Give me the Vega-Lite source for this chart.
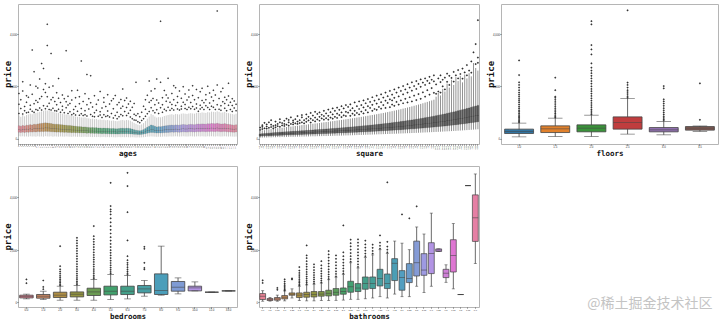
{
"$schema":"https://vega.github.io/schema/vega-lite/v6.json",
"background":"white",
"padding":{"left":2,"top":3,"right":0,"bottom":0},
"columns":3,
"spacing":{"row":22,"column":22},
"bounds":"flush",
"resolve":{"scale":{"color":"independent","x":"independent","y":"independent"}},
"title":{"text":"@稀土掘金技术社区","orient":"bottom","anchor":"end","dy":-27,"dx":-6,"fontSize":14,"fontWeight":"normal","color":"#c4c4c4","font":"Noto Sans CJK SC"},
"config":{
 "view":{"stroke":"#b5b5b5","strokeWidth":1},
 "scale":{"bandPaddingInner":0,"bandPaddingOuter":0},
 "axisY":{"labelFontSize":2.8,"labelFont":"Liberation Sans","labelColor":"#333","tickSize":1,"tickColor":"#666","labelPadding":0.5,"titleFontSize":9,"titleFont":"DejaVu Sans Mono","titleColor":"#111","titlePadding":0,"minExtent":6,"maxExtent":6,"domain":false,"grid":false},
 "axisX":{"labelFontSize":2.8,"labelFont":"Liberation Sans","labelColor":"#333","labelAngle":0,"tickSize":1,"tickColor":"#666","labelPadding":0.5,"titleFontSize":7.5,"titleFont":"DejaVu Sans Mono","titleColor":"#111","titlePadding":1,"minExtent":4,"maxExtent":4,"domain":false,"grid":false}
},
"datasets":{
"ages":[
{"a":0,"l":90,"q1":240,"m":345,"q3":490,"h":880},{"a":1,"l":80,"q1":235,"m":330,"q3":470,"h":830},{"a":2,"l":85,"q1":245,"m":350,"q3":500,"h":900},{"a":3,"l":75,"q1":230,"m":335,"q3":480,"h":850},{"a":4,"l":80,"q1":250,"m":360,"q3":510,"h":900},{"a":5,"l":70,"q1":240,"m":350,"q3":505,"h":920},{"a":6,"l":85,"q1":255,"m":370,"q3":530,"h":950},{"a":7,"l":75,"q1":245,"m":355,"q3":520,"h":930},{"a":8,"l":80,"q1":260,"m":380,"q3":545,"h":970},{"a":9,"l":70,"q1":250,"m":370,"q3":540,"h":980},
{"a":10,"l":85,"q1":265,"m":390,"q3":560,"h":1000},{"a":11,"l":75,"q1":260,"m":385,"q3":570,"h":1020},{"a":12,"l":80,"q1":270,"m":400,"q3":580,"h":1040},{"a":13,"l":70,"q1":265,"m":395,"q3":590,"h":1060},{"a":14,"l":90,"q1":275,"m":410,"q3":600,"h":1080},{"a":15,"l":80,"q1":270,"m":405,"q3":595,"h":1070},{"a":16,"l":75,"q1":265,"m":400,"q3":585,"h":1050},{"a":17,"l":85,"q1":260,"m":390,"q3":575,"h":1040},{"a":18,"l":70,"q1":255,"m":385,"q3":560,"h":1020},{"a":19,"l":80,"q1":250,"m":375,"q3":550,"h":1000},
{"a":20,"l":75,"q1":245,"m":370,"q3":545,"h":990},{"a":21,"l":70,"q1":250,"m":365,"q3":540,"h":980},{"a":22,"l":80,"q1":240,"m":360,"q3":530,"h":960},{"a":23,"l":75,"q1":245,"m":355,"q3":525,"h":950},{"a":24,"l":70,"q1":235,"m":350,"q3":515,"h":930},{"a":25,"l":80,"q1":240,"m":345,"q3":510,"h":920},{"a":26,"l":75,"q1":230,"m":340,"q3":500,"h":900},{"a":27,"l":70,"q1":235,"m":335,"q3":495,"h":890},{"a":28,"l":65,"q1":225,"m":330,"q3":485,"h":870},{"a":29,"l":75,"q1":230,"m":325,"q3":480,"h":860},
{"a":30,"l":70,"q1":220,"m":320,"q3":470,"h":840},{"a":31,"l":65,"q1":225,"m":315,"q3":460,"h":830},{"a":32,"l":70,"q1":215,"m":310,"q3":455,"h":820},{"a":33,"l":60,"q1":220,"m":305,"q3":450,"h":810},{"a":34,"l":65,"q1":210,"m":300,"q3":440,"h":800},{"a":35,"l":70,"q1":215,"m":305,"q3":445,"h":810},{"a":36,"l":60,"q1":205,"m":295,"q3":430,"h":780},{"a":37,"l":65,"q1":210,"m":290,"q3":425,"h":770},{"a":38,"l":60,"q1":200,"m":285,"q3":415,"h":750},{"a":39,"l":55,"q1":205,"m":290,"q3":420,"h":760},
{"a":40,"l":60,"q1":195,"m":280,"q3":410,"h":740},{"a":41,"l":55,"q1":200,"m":285,"q3":415,"h":750},{"a":42,"l":60,"q1":190,"m":275,"q3":400,"h":720},{"a":43,"l":50,"q1":195,"m":280,"q3":405,"h":730},{"a":44,"l":55,"q1":185,"m":270,"q3":395,"h":710},{"a":45,"l":60,"q1":190,"m":275,"q3":400,"h":720},{"a":46,"l":50,"q1":180,"m":265,"q3":390,"h":700},{"a":47,"l":55,"q1":185,"m":270,"q3":395,"h":710},{"a":48,"l":50,"q1":180,"m":260,"q3":385,"h":690},{"a":49,"l":55,"q1":175,"m":255,"q3":380,"h":680},
{"a":50,"l":50,"q1":180,"m":260,"q3":385,"h":690},{"a":51,"l":45,"q1":175,"m":255,"q3":375,"h":670},{"a":52,"l":50,"q1":170,"m":250,"q3":370,"h":660},{"a":53,"l":55,"q1":175,"m":255,"q3":380,"h":680},{"a":54,"l":50,"q1":180,"m":265,"q3":390,"h":700},{"a":55,"l":55,"q1":185,"m":270,"q3":395,"h":710},{"a":56,"l":50,"q1":180,"m":260,"q3":385,"h":690},{"a":57,"l":55,"q1":185,"m":265,"q3":395,"h":710},{"a":58,"l":50,"q1":180,"m":260,"q3":390,"h":700},{"a":59,"l":45,"q1":175,"m":255,"q3":380,"h":680},
{"a":60,"l":50,"q1":170,"m":245,"q3":360,"h":640},{"a":61,"l":45,"q1":165,"m":235,"q3":340,"h":600},{"a":62,"l":40,"q1":160,"m":225,"q3":320,"h":560},{"a":63,"l":45,"q1":155,"m":215,"q3":305,"h":530},{"a":64,"l":40,"q1":150,"m":210,"q3":295,"h":510},{"a":65,"l":45,"q1":160,"m":220,"q3":310,"h":540},{"a":66,"l":50,"q1":170,"m":240,"q3":340,"h":590},{"a":67,"l":60,"q1":185,"m":265,"q3":380,"h":670},{"a":68,"l":70,"q1":205,"m":300,"q3":430,"h":760},{"a":69,"l":75,"q1":220,"m":320,"q3":470,"h":840},
{"a":70,"l":80,"q1":235,"m":345,"q3":520,"h":940},{"a":71,"l":75,"q1":230,"m":335,"q3":500,"h":900},{"a":72,"l":70,"q1":220,"m":320,"q3":470,"h":840},{"a":73,"l":65,"q1":210,"m":305,"q3":445,"h":800},{"a":74,"l":70,"q1":215,"m":315,"q3":455,"h":820},{"a":75,"l":65,"q1":210,"m":310,"q3":450,"h":810},{"a":76,"l":70,"q1":220,"m":320,"q3":465,"h":830},{"a":77,"l":75,"q1":225,"m":330,"q3":480,"h":860},{"a":78,"l":70,"q1":230,"m":335,"q3":490,"h":880},{"a":79,"l":75,"q1":235,"m":340,"q3":500,"h":900},
{"a":80,"l":80,"q1":240,"m":350,"q3":510,"h":920},{"a":81,"l":75,"q1":245,"m":355,"q3":515,"h":930},{"a":82,"l":80,"q1":240,"m":350,"q3":505,"h":910},{"a":83,"l":85,"q1":250,"m":360,"q3":520,"h":940},{"a":84,"l":80,"q1":245,"m":355,"q3":515,"h":930},{"a":85,"l":75,"q1":240,"m":350,"q3":510,"h":920},{"a":86,"l":80,"q1":250,"m":365,"q3":525,"h":950},{"a":87,"l":85,"q1":255,"m":370,"q3":535,"h":960},{"a":88,"l":80,"q1":250,"m":365,"q3":530,"h":950},{"a":89,"l":75,"q1":245,"m":360,"q3":520,"h":940},
{"a":90,"l":80,"q1":255,"m":370,"q3":535,"h":960},{"a":91,"l":85,"q1":260,"m":375,"q3":540,"h":970},{"a":92,"l":80,"q1":255,"m":370,"q3":535,"h":960},{"a":93,"l":75,"q1":250,"m":365,"q3":525,"h":950},{"a":94,"l":80,"q1":260,"m":375,"q3":545,"h":980},{"a":95,"l":85,"q1":265,"m":385,"q3":555,"h":990},{"a":96,"l":80,"q1":260,"m":380,"q3":550,"h":980},{"a":97,"l":85,"q1":270,"m":390,"q3":560,"h":1000},{"a":98,"l":80,"q1":265,"m":385,"q3":555,"h":990},{"a":99,"l":75,"q1":260,"m":380,"q3":550,"h":980},
{"a":100,"l":85,"q1":270,"m":395,"q3":565,"h":1010},{"a":101,"l":80,"q1":265,"m":390,"q3":560,"h":1000},{"a":102,"l":85,"q1":275,"m":400,"q3":575,"h":1030},{"a":103,"l":80,"q1":270,"m":395,"q3":570,"h":1020},{"a":104,"l":75,"q1":265,"m":390,"q3":565,"h":1010},{"a":105,"l":85,"q1":275,"m":405,"q3":580,"h":1040},{"a":106,"l":80,"q1":270,"m":395,"q3":570,"h":1020},{"a":107,"l":75,"q1":260,"m":385,"q3":555,"h":990},{"a":108,"l":80,"q1":265,"m":390,"q3":560,"h":1000},{"a":109,"l":85,"q1":270,"m":395,"q3":570,"h":1020},
{"a":110,"l":80,"q1":260,"m":380,"q3":550,"h":980},{"a":111,"l":75,"q1":255,"m":375,"q3":540,"h":970},{"a":112,"l":80,"q1":250,"m":365,"q3":530,"h":950},{"a":113,"l":75,"q1":245,"m":360,"q3":520,"h":940},{"a":114,"l":70,"q1":240,"m":350,"q3":510,"h":920},{"a":115,"l":75,"q1":250,"m":360,"q3":525,"h":950}
],
"agesO":[
{"a":0,"p":960},{"a":0,"p":1310},{"a":0,"p":1720},{"a":1,"p":1150},{"a":1,"p":1480},{"a":2,"p":940},{"a":2,"p":1820},{"a":2,"p":2170},{"a":3,"p":1230},{"a":3,"p":1060},{"a":4,"p":1390},{"a":4,"p":990},{"a":4,"p":1640},{"a":5,"p":1010},{"a":5,"p":1580},{"a":6,"p":1270},{"a":6,"p":2050},{"a":6,"p":1120},{"a":7,"p":3385},{"a":7,"p":1040},{"a":7,"p":1690},{"a":8,"p":2560},{"a":8,"p":1330},{"a":8,"p":1010},{"a":9,"p":1460},{"a":9,"p":1110},{"a":9,"p":2000},
{"a":10,"p":1080},{"a":10,"p":1930},{"a":10,"p":1390},{"a":11,"p":2277},{"a":11,"p":1170},{"a":11,"p":1520},{"a":12,"p":2874},{"a":12,"p":1090},{"a":12,"p":1610},{"a":13,"p":2683},{"a":13,"p":1250},{"a":13,"p":1880},{"a":14,"p":1140},{"a":14,"p":1760},{"a":14,"p":2100},{"a":15,"p":4378},{"a":15,"p":3561},{"a":15,"p":1240},{"a":15,"p":1600},{"a":16,"p":1110},{"a":16,"p":1960},{"a":16,"p":1350},{"a":17,"p":3256},{"a":17,"p":1480},{"a":17,"p":1090},{"a":18,"p":1570},{"a":18,"p":1160},{"a":18,"p":2010},{"a":19,"p":1060},{"a":19,"p":1420},
{"a":20,"p":1290},{"a":20,"p":1050},{"a":20,"p":1750},{"a":21,"p":2300},{"a":21,"p":1120},{"a":21,"p":1540},{"a":22,"p":1010},{"a":22,"p":1380},{"a":23,"p":1670},{"a":23,"p":1090},{"a":23,"p":1240},{"a":24,"p":990},{"a":24,"p":1520},{"a":25,"p":3359},{"a":25,"p":1180},{"a":25,"p":1410},{"a":26,"p":960},{"a":26,"p":1620},{"a":26,"p":1280},{"a":27,"p":1340},{"a":27,"p":1020},{"a":28,"p":910},{"a":28,"p":1470},{"a":28,"p":1830},{"a":29,"p":1110},{"a":29,"p":960},
{"a":30,"p":1560},{"a":30,"p":900},{"a":30,"p":1230},{"a":31,"p":1850},{"a":31,"p":1040},{"a":32,"p":890},{"a":32,"p":1330},{"a":32,"p":1600},{"a":33,"p":2966},{"a":33,"p":1150},{"a":33,"p":950},{"a":34,"p":1420},{"a":34,"p":880},{"a":35,"p":1060},{"a":35,"p":1710},{"a":35,"p":910},{"a":36,"p":2454},{"a":36,"p":1290},{"a":36,"p":860},{"a":37,"p":1130},{"a":37,"p":1520},{"a":38,"p":2400},{"a":38,"p":920},{"a":38,"p":1370},{"a":39,"p":1210},{"a":39,"p":850},
{"a":40,"p":1640},{"a":40,"p":830},{"a":40,"p":990},{"a":41,"p":1080},{"a":41,"p":1310},{"a":42,"p":850},{"a":42,"p":1470},{"a":43,"p":1800},{"a":43,"p":1020},{"a":43,"p":900},{"a":44,"p":1170},{"a":44,"p":800},{"a":45,"p":1390},{"a":45,"p":910},{"a":45,"p":1560},{"a":46,"p":840},{"a":46,"p":1230},{"a":47,"p":1050},{"a":47,"p":1680},{"a":47,"p":870},{"a":48,"p":1320},{"a":48,"p":820},{"a":49,"p":960},{"a":49,"p":1450},
{"a":50,"p":790},{"a":50,"p":1140},{"a":50,"p":1520},{"a":51,"p":1650},{"a":51,"p":880},{"a":52,"p":1010},{"a":52,"p":760},{"a":52,"p":1290},{"a":53,"p":1380},{"a":53,"p":830},{"a":54,"p":920},{"a":54,"p":1490},{"a":54,"p":1160},{"a":55,"p":1900},{"a":55,"p":870},{"a":55,"p":1240},{"a":56,"p":1030},{"a":56,"p":1460},{"a":57,"p":1550},{"a":57,"p":880},{"a":57,"p":1190},{"a":58,"p":970},{"a":58,"p":1320},{"a":59,"p":1430},{"a":59,"p":820},{"a":59,"p":1080},
{"a":60,"p":760},{"a":60,"p":1200},{"a":61,"p":930},{"a":61,"p":710},{"a":61,"p":1340},{"a":62,"p":2150},{"a":62,"p":700},{"a":62,"p":880},{"a":63,"p":640},{"a":63,"p":950},{"a":64,"p":830},{"a":64,"p":600},{"a":65,"p":1010},{"a":65,"p":690},{"a":66,"p":760},{"a":66,"p":1240},{"a":67,"p":1120},{"a":67,"p":850},{"a":67,"p":1480},{"a":68,"p":950},{"a":68,"p":1660},{"a":69,"p":2200},{"a":69,"p":1030},{"a":69,"p":1390},
{"a":70,"p":1180},{"a":70,"p":1820},{"a":70,"p":1460},{"a":71,"p":1060},{"a":71,"p":1530},{"a":72,"p":1290},{"a":72,"p":990},{"a":72,"p":1910},{"a":73,"p":2277},{"a":73,"p":1100},{"a":73,"p":1470},{"a":74,"p":960},{"a":74,"p":1360},{"a":75,"p":4492},{"a":75,"p":2150},{"a":75,"p":1180},{"a":76,"p":1560},{"a":76,"p":1010},{"a":76,"p":1290},{"a":77,"p":1120},{"a":77,"p":1840},{"a":78,"p":1430},{"a":78,"p":1060},{"a":78,"p":1670},{"a":79,"p":2303},{"a":79,"p":1200},{"a":79,"p":1550},
{"a":80,"p":1080},{"a":80,"p":1390},{"a":81,"p":1720},{"a":81,"p":1150},{"a":81,"p":1300},{"a":82,"p":2023},{"a":82,"p":1090},{"a":82,"p":1480},{"a":83,"p":1260},{"a":83,"p":1940},{"a":84,"p":1130},{"a":84,"p":1610},{"a":84,"p":1380},{"a":85,"p":1820},{"a":85,"p":1090},{"a":86,"p":1240},{"a":86,"p":1540},{"a":86,"p":1130},{"a":87,"p":1390},{"a":87,"p":1980},{"a":88,"p":1150},{"a":88,"p":1700},{"a":88,"p":1300},{"a":89,"p":1470},{"a":89,"p":1110},
{"a":90,"p":1860},{"a":90,"p":1200},{"a":90,"p":1590},{"a":91,"p":1140},{"a":91,"p":1380},{"a":92,"p":1650},{"a":92,"p":1230},{"a":92,"p":2020},{"a":93,"p":1120},{"a":93,"p":1480},{"a":94,"p":1320},{"a":94,"p":1880},{"a":94,"p":1170},{"a":95,"p":1560},{"a":95,"p":1040},{"a":96,"p":1270},{"a":96,"p":1790},{"a":96,"p":1130},{"a":97,"p":1920},{"a":97,"p":1190},{"a":97,"p":1460},{"a":98,"p":1370},{"a":98,"p":1110},{"a":99,"p":1680},{"a":99,"p":1250},{"a":99,"p":1480},
{"a":100,"p":2000},{"a":100,"p":1190},{"a":101,"p":1360},{"a":101,"p":1740},{"a":101,"p":1110},{"a":102,"p":1240},{"a":102,"p":1590},{"a":103,"p":1850},{"a":103,"p":1200},{"a":103,"p":1450},{"a":104,"p":1110},{"a":104,"p":1670},{"a":105,"p":4885},{"a":105,"p":2050},{"a":105,"p":1290},{"a":106,"p":1530},{"a":106,"p":1120},{"a":107,"p":1790},{"a":107,"p":1250},{"a":107,"p":1080},{"a":108,"p":1410},{"a":108,"p":1920},{"a":109,"p":1160},{"a":109,"p":1580},{"a":109,"p":1340},
{"a":110,"p":1060},{"a":110,"p":1480},{"a":111,"p":2112},{"a":111,"p":1270},{"a":111,"p":1630},{"a":112,"p":1110},{"a":112,"p":1390},{"a":113,"p":1520},{"a":113,"p":1030},{"a":113,"p":1260},{"a":114,"p":1170},{"a":114,"p":1440},{"a":115,"p":1060},{"a":115,"p":1310}
],
"sq":[
{"s":20,"l":30,"q1":90,"m":130,"q3":175,"h":290},{"s":21,"l":35,"q1":95,"m":140,"q3":185,"h":310},{"s":22,"l":40,"q1":100,"m":145,"q3":190,"h":320},{"s":23,"l":38,"q1":105,"m":150,"q3":200,"h":340},{"s":24,"l":45,"q1":110,"m":155,"q3":205,"h":350},{"s":25,"l":42,"q1":108,"m":160,"q3":215,"h":360},{"s":26,"l":50,"q1":115,"m":165,"q3":220,"h":370},{"s":27,"l":48,"q1":120,"m":170,"q3":228,"h":380},{"s":28,"l":55,"q1":118,"m":172,"q3":235,"h":395},{"s":29,"l":52,"q1":125,"m":178,"q3":240,"h":400},
{"s":30,"l":58,"q1":128,"m":182,"q3":245,"h":410},{"s":31,"l":55,"q1":132,"m":186,"q3":252,"h":425},{"s":32,"l":60,"q1":135,"m":190,"q3":258,"h":440},{"s":33,"l":62,"q1":138,"m":195,"q3":262,"h":445},{"s":34,"l":65,"q1":140,"m":198,"q3":268,"h":455},{"s":35,"l":63,"q1":145,"m":205,"q3":275,"h":470},{"s":36,"l":68,"q1":148,"m":208,"q3":280,"h":480},{"s":37,"l":70,"q1":150,"m":212,"q3":286,"h":490},{"s":38,"l":72,"q1":154,"m":216,"q3":292,"h":500},{"s":39,"l":75,"q1":158,"m":220,"q3":298,"h":515},
{"s":40,"l":74,"q1":160,"m":225,"q3":302,"h":520},{"s":41,"l":78,"q1":164,"m":230,"q3":308,"h":530},{"s":42,"l":80,"q1":167,"m":234,"q3":314,"h":545},{"s":43,"l":82,"q1":170,"m":238,"q3":320,"h":555},{"s":44,"l":85,"q1":172,"m":242,"q3":326,"h":565},{"s":45,"l":83,"q1":176,"m":246,"q3":332,"h":575},{"s":46,"l":88,"q1":180,"m":250,"q3":338,"h":585},{"s":47,"l":90,"q1":182,"m":254,"q3":344,"h":595},{"s":48,"l":92,"q1":186,"m":258,"q3":350,"h":610},{"s":49,"l":95,"q1":190,"m":262,"q3":356,"h":620},
{"s":50,"l":94,"q1":192,"m":266,"q3":362,"h":630},{"s":51,"l":98,"q1":196,"m":270,"q3":368,"h":640},{"s":52,"l":100,"q1":200,"m":275,"q3":375,"h":655},{"s":53,"l":102,"q1":203,"m":280,"q3":382,"h":665},{"s":54,"l":105,"q1":206,"m":284,"q3":388,"h":675},{"s":55,"l":108,"q1":210,"m":288,"q3":395,"h":690},{"s":56,"l":110,"q1":214,"m":293,"q3":402,"h":700},{"s":57,"l":112,"q1":217,"m":298,"q3":408,"h":712},{"s":58,"l":115,"q1":220,"m":302,"q3":415,"h":725},{"s":59,"l":118,"q1":224,"m":307,"q3":422,"h":738},
{"s":60,"l":120,"q1":228,"m":312,"q3":430,"h":750},{"s":61,"l":123,"q1":232,"m":317,"q3":437,"h":762},{"s":62,"l":126,"q1":236,"m":322,"q3":444,"h":775},{"s":63,"l":128,"q1":240,"m":327,"q3":452,"h":788},{"s":64,"l":131,"q1":244,"m":332,"q3":460,"h":800},{"s":65,"l":134,"q1":248,"m":338,"q3":468,"h":815},{"s":66,"l":137,"q1":252,"m":343,"q3":476,"h":828},{"s":67,"l":140,"q1":256,"m":348,"q3":484,"h":842},{"s":68,"l":143,"q1":260,"m":354,"q3":492,"h":856},{"s":69,"l":146,"q1":264,"m":360,"q3":500,"h":870},
{"s":70,"l":149,"q1":268,"m":366,"q3":508,"h":885},{"s":71,"l":152,"q1":273,"m":372,"q3":517,"h":900},{"s":72,"l":155,"q1":278,"m":378,"q3":526,"h":915},{"s":73,"l":158,"q1":283,"m":384,"q3":535,"h":930},{"s":74,"l":161,"q1":288,"m":390,"q3":544,"h":946},{"s":75,"l":164,"q1":293,"m":397,"q3":553,"h":962},{"s":76,"l":167,"q1":298,"m":404,"q3":563,"h":978},{"s":77,"l":170,"q1":303,"m":410,"q3":573,"h":995},{"s":78,"l":173,"q1":308,"m":417,"q3":583,"h":1012},{"s":79,"l":176,"q1":313,"m":424,"q3":593,"h":1030},
{"s":80,"l":180,"q1":318,"m":431,"q3":604,"h":1048},{"s":81,"l":183,"q1":323,"m":438,"q3":615,"h":1066},{"s":82,"l":186,"q1":328,"m":446,"q3":626,"h":1085},{"s":83,"l":190,"q1":334,"m":454,"q3":637,"h":1104},{"s":84,"l":193,"q1":340,"m":462,"q3":648,"h":1124},{"s":85,"l":196,"q1":346,"m":470,"q3":660,"h":1144},{"s":86,"l":200,"q1":352,"m":478,"q3":672,"h":1165},{"s":87,"l":203,"q1":358,"m":487,"q3":684,"h":1186},{"s":88,"l":206,"q1":364,"m":496,"q3":697,"h":1208},{"s":89,"l":210,"q1":370,"m":505,"q3":710,"h":1230},
{"s":90,"l":213,"q1":376,"m":514,"q3":723,"h":1253},{"s":91,"l":217,"q1":383,"m":523,"q3":736,"h":1276},{"s":92,"l":220,"q1":390,"m":532,"q3":750,"h":1300},{"s":93,"l":224,"q1":397,"m":542,"q3":764,"h":1325},{"s":94,"l":228,"q1":404,"m":552,"q3":778,"h":1350},{"s":95,"l":232,"q1":411,"m":562,"q3":793,"h":1376},{"s":96,"l":236,"q1":418,"m":572,"q3":808,"h":1402},{"s":97,"l":240,"q1":426,"m":583,"q3":823,"h":1429},{"s":98,"l":244,"q1":434,"m":594,"q3":839,"h":1457},{"s":99,"l":248,"q1":442,"m":605,"q3":855,"h":1485},
{"s":100,"l":252,"q1":450,"m":616,"q3":871,"h":1600},{"s":101,"l":256,"q1":458,"m":628,"q3":888,"h":1750},{"s":102,"l":260,"q1":466,"m":640,"q3":905,"h":1650},{"s":103,"l":265,"q1":474,"m":652,"q3":923,"h":1900},{"s":104,"l":270,"q1":483,"m":665,"q3":941,"h":1800},{"s":105,"l":274,"q1":492,"m":678,"q3":960,"h":2100},{"s":106,"l":279,"q1":501,"m":691,"q3":979,"h":1950},{"s":107,"l":284,"q1":510,"m":704,"q3":998,"h":2250},{"s":108,"l":289,"q1":520,"m":718,"q3":1018,"h":2050},{"s":109,"l":294,"q1":530,"m":732,"q3":1038,"h":2350},
{"s":110,"l":300,"q1":540,"m":746,"q3":1059,"h":2200},{"s":111,"l":305,"q1":550,"m":761,"q3":1080,"h":2400},{"s":112,"l":310,"q1":560,"m":776,"q3":1102,"h":2150},{"s":113,"l":316,"q1":571,"m":791,"q3":1124,"h":2450},{"s":114,"l":322,"q1":582,"m":807,"q3":1147,"h":2300},{"s":115,"l":328,"q1":594,"m":823,"q3":1170,"h":2500},{"s":116,"l":334,"q1":606,"m":840,"q3":1194,"h":2380},{"s":117,"l":340,"q1":618,"m":857,"q3":1218,"h":2890},{"s":118,"l":347,"q1":630,"m":875,"q3":1243,"h":2700},{"s":119,"l":354,"q1":643,"m":893,"q3":1268,"h":2600}
],
"sqO":[
{"s":20,"p":420},{"s":20,"p":330},{"s":21,"p":360},{"s":21,"p":510},{"s":21,"p":450},{"s":22,"p":600},{"s":22,"p":390},{"s":23,"p":460},{"s":23,"p":380},{"s":23,"p":540},{"s":24,"p":410},{"s":24,"p":620},{"s":25,"p":530},{"s":25,"p":440},{"s":25,"p":700},{"s":26,"p":480},{"s":26,"p":390},{"s":27,"p":650},{"s":27,"p":510},{"s":27,"p":430},{"s":28,"p":560},{"s":28,"p":470},{"s":29,"p":740},{"s":29,"p":450},{"s":29,"p":620},
{"s":30,"p":500},{"s":30,"p":590},{"s":31,"p":680},{"s":31,"p":480},{"s":31,"p":560},{"s":32,"p":530},{"s":32,"p":760},{"s":33,"p":620},{"s":33,"p":490},{"s":33,"p":710},{"s":34,"p":810},{"s":34,"p":560},{"s":35,"p":540},{"s":35,"p":690},{"s":35,"p":620},{"s":36,"p":740},{"s":36,"p":580},{"s":37,"p":560},{"s":37,"p":860},{"s":37,"p":650},{"s":38,"p":700},{"s":38,"p":590},{"s":39,"p":620},{"s":39,"p":810},{"s":39,"p":900},
{"s":40,"p":580},{"s":40,"p":700},{"s":41,"p":920},{"s":41,"p":640},{"s":41,"p":760},{"s":42,"p":690},{"s":42,"p":830},{"s":43,"p":610},{"s":43,"p":760},{"s":43,"p":980},{"s":44,"p":880},{"s":44,"p":700},{"s":45,"p":660},{"s":45,"p":800},{"s":45,"p":1020},{"s":46,"p":730},{"s":46,"p":940},{"s":47,"p":1000},{"s":47,"p":680},{"s":47,"p":830},{"s":48,"p":770},{"s":48,"p":910},{"s":49,"p":720},{"s":49,"p":1060},{"s":49,"p":860},
{"s":50,"p":960},{"s":50,"p":780},{"s":51,"p":720},{"s":51,"p":870},{"s":51,"p":1110},{"s":52,"p":1010},{"s":52,"p":800},{"s":53,"p":760},{"s":53,"p":920},{"s":53,"p":1150},{"s":54,"p":1060},{"s":54,"p":830},{"s":55,"p":790},{"s":55,"p":1180},{"s":55,"p":950},{"s":56,"p":900},{"s":56,"p":1100},{"s":57,"p":820},{"s":57,"p":1000},{"s":57,"p":1240},{"s":58,"p":1150},{"s":58,"p":890},{"s":59,"p":860},{"s":59,"p":1020},{"s":59,"p":1280},
{"s":60,"p":990},{"s":60,"p":1210},{"s":61,"p":870},{"s":61,"p":1310},{"s":61,"p":1080},{"s":62,"p":1160},{"s":62,"p":950},{"s":63,"p":900},{"s":63,"p":1060},{"s":63,"p":1380},{"s":64,"p":1240},{"s":64,"p":980},{"s":65,"p":920},{"s":65,"p":1130},{"s":65,"p":1420},{"s":66,"p":1280},{"s":66,"p":1030},{"s":67,"p":960},{"s":67,"p":1190},{"s":67,"p":1460},{"s":68,"p":1090},{"s":68,"p":1350},{"s":69,"p":1000},{"s":69,"p":1510},{"s":69,"p":1240},
{"s":70,"p":1170},{"s":70,"p":1400},{"s":71,"p":1060},{"s":71,"p":1290},{"s":71,"p":1580},{"s":72,"p":1450},{"s":72,"p":1130},{"s":73,"p":1100},{"s":73,"p":1340},{"s":73,"p":1640},{"s":74,"p":1210},{"s":74,"p":1500},{"s":75,"p":1140},{"s":75,"p":1690},{"s":75,"p":1390},{"s":76,"p":1280},{"s":76,"p":1570},{"s":77,"p":1170},{"s":77,"p":1450},{"s":77,"p":1760},{"s":78,"p":1360},{"s":78,"p":1620},{"s":79,"p":1200},{"s":79,"p":1820},{"s":79,"p":1500},
{"s":80,"p":1300},{"s":80,"p":1680},{"s":80,"p":1460},{"s":81,"p":1250},{"s":81,"p":1880},{"s":81,"p":1560},{"s":82,"p":1400},{"s":82,"p":1760},{"s":83,"p":1300},{"s":83,"p":1610},{"s":83,"p":1950},{"s":84,"p":1460},{"s":84,"p":1820},{"s":85,"p":1350},{"s":85,"p":2010},{"s":85,"p":1690},{"s":86,"p":1520},{"s":86,"p":1880},{"s":87,"p":1380},{"s":87,"p":1760},{"s":87,"p":2080},{"s":88,"p":1580},{"s":88,"p":1950},{"s":89,"p":1420},{"s":89,"p":1830},{"s":89,"p":2150},
{"s":90,"p":1640},{"s":90,"p":2010},{"s":91,"p":1470},{"s":91,"p":1900},{"s":91,"p":2200},{"s":92,"p":1700},{"s":92,"p":2090},{"s":93,"p":1520},{"s":93,"p":1980},{"s":93,"p":2260},{"s":94,"p":1770},{"s":94,"p":2140},{"s":95,"p":1600},{"s":95,"p":2050},{"s":95,"p":2300},{"s":96,"p":1850},{"s":96,"p":2210},{"s":97,"p":1680},{"s":97,"p":2120},{"s":97,"p":2360},{"s":98,"p":1930},{"s":98,"p":2250},{"s":99,"p":1750},{"s":99,"p":2190},{"s":99,"p":2420},
{"s":100,"p":1710},{"s":100,"p":2070},{"s":101,"p":1800},{"s":101,"p":2300},{"s":102,"p":1760},{"s":102,"p":2160},{"s":102,"p":2420},{"s":103,"p":2000},{"s":103,"p":2250},{"s":104,"p":1880},{"s":104,"p":2330},{"s":105,"p":2170},{"s":105,"p":2480},{"s":106,"p":2050},{"s":106,"p":2400},{"s":107,"p":2320},{"s":108,"p":2180},{"s":108,"p":2550},{"s":109,"p":2420},
{"s":110,"p":2300},{"s":110,"p":2620},{"s":111,"p":2470},{"s":112,"p":2290},{"s":112,"p":2680},{"s":113,"p":2530},{"s":114,"p":2420},{"s":114,"p":2810},{"s":115,"p":2600},{"s":116,"p":2520},{"s":116,"p":2950},{"s":117,"p":3300},{"s":118,"p":3614},{"s":118,"p":2850},{"s":119,"p":4530},{"s":119,"p":3100},{"s":119,"p":2900}
],
"fl":[
{"f":1,"l":65,"q1":191,"m":267,"q3":359,"h":588},{"f":1.5,"l":76,"q1":229,"m":370,"q3":485,"h":779},{"f":2,"l":76,"q1":256,"m":397,"q3":523,"h":893},{"f":2.5,"l":168,"q1":359,"m":611,"q3":828,"h":1527},{"f":3,"l":141,"q1":256,"m":332,"q3":420,"h":649},{"f":3.5,"l":270,"q1":321,"m":397,"q3":458,"h":480}
],
"flO":[
{"f":1,"p":620},{"f":1,"p":660},{"f":1,"p":700},{"f":1,"p":750},{"f":1,"p":800},{"f":1,"p":850},{"f":1,"p":900},{"f":1,"p":960},{"f":1,"p":1020},{"f":1,"p":1080},{"f":1,"p":1150},{"f":1,"p":1220},{"f":1,"p":1300},{"f":1,"p":1380},{"f":1,"p":1450},{"f":1,"p":1520},{"f":1,"p":1600},{"f":1,"p":1680},{"f":1,"p":1760},{"f":1,"p":1850},{"f":1,"p":1950},{"f":1,"p":2050},{"f":1,"p":2150},{"f":1,"p":2430},{"f":1,"p":2990},
{"f":1.5,"p":800},{"f":1.5,"p":850},{"f":1.5,"p":900},{"f":1.5,"p":960},{"f":1.5,"p":1020},{"f":1.5,"p":1090},{"f":1.5,"p":1160},{"f":1.5,"p":1240},{"f":1.5,"p":1320},{"f":1.5,"p":1400},{"f":1.5,"p":1480},{"f":1.5,"p":1560},{"f":1.5,"p":1600},{"f":1.5,"p":1850},{"f":1.5,"p":2330},
{"f":2,"p":920},{"f":2,"p":980},{"f":2,"p":1050},{"f":2,"p":1120},{"f":2,"p":1200},{"f":2,"p":1280},{"f":2,"p":1360},{"f":2,"p":1450},{"f":2,"p":1540},{"f":2,"p":1630},{"f":2,"p":1720},{"f":2,"p":1810},{"f":2,"p":1900},{"f":2,"p":2000},{"f":2,"p":2100},{"f":2,"p":2200},{"f":2,"p":2300},{"f":2,"p":2400},{"f":2,"p":2500},{"f":2,"p":2600},{"f":2,"p":2710},{"f":2,"p":2880},{"f":2,"p":3220},{"f":2,"p":3410},{"f":2,"p":3580},{"f":2,"p":4370},{"f":2,"p":4490},
{"f":2.5,"p":1560},{"f":2.5,"p":1620},{"f":2.5,"p":1700},{"f":2.5,"p":1780},{"f":2.5,"p":1850},{"f":2.5,"p":1950},{"f":2.5,"p":2050},{"f":2.5,"p":2140},{"f":2.5,"p":4910},
{"f":3,"p":680},{"f":3,"p":730},{"f":3,"p":790},{"f":3,"p":850},{"f":3,"p":920},{"f":3,"p":1000},{"f":3,"p":1080},{"f":3,"p":1160},{"f":3,"p":1250},{"f":3,"p":1340},{"f":3,"p":1420},{"f":3,"p":1500},{"f":3,"p":1920},{"f":3,"p":2010},
{"f":3.5,"p":714},{"f":3.5,"p":2114}
],
"bed":[
{"b":0,"l":115,"q1":153,"m":207,"q3":257,"h":295},{"b":1,"l":92,"q1":142,"m":219,"q3":284,"h":410},{"b":2,"l":65,"q1":168,"m":257,"q3":372,"h":602},{"b":3,"l":65,"q1":192,"m":295,"q3":383,"h":629},{"b":4,"l":65,"q1":245,"m":383,"q3":525,"h":859},{"b":5,"l":92,"q1":268,"m":410,"q3":602,"h":1050},{"b":6,"l":115,"q1":282,"m":410,"q3":602,"h":1012},{"b":7,"l":219,"q1":345,"m":498,"q3":629,"h":820},{"b":8,"l":257,"q1":284,"m":437,"q3":1074,"h":2136},{"b":9,"l":307,"q1":410,"m":564,"q3":782,"h":920},{"b":10,"l":422,"q1":422,"m":537,"q3":602,"h":767},{"b":11,"l":372,"q1":372,"m":372,"q3":372,"h":372},{"b":33,"l":422,"q1":422,"m":422,"q3":422,"h":422}
],
"bedO":[
{"b":0,"p":717},{"b":0,"p":859},{"b":1,"p":487},{"b":1,"p":575},{"b":1,"p":820},
{"b":2,"p":630},{"b":2,"p":680},{"b":2,"p":740},{"b":2,"p":800},{"b":2,"p":860},{"b":2,"p":930},{"b":2,"p":1000},{"b":2,"p":1080},{"b":2,"p":1160},{"b":2,"p":1250},{"b":2,"p":1369},{"b":2,"p":2136},
{"b":3,"p":660},{"b":3,"p":720},{"b":3,"p":780},{"b":3,"p":850},{"b":3,"p":920},{"b":3,"p":1000},{"b":3,"p":1080},{"b":3,"p":1170},{"b":3,"p":1260},{"b":3,"p":1350},{"b":3,"p":1450},{"b":3,"p":1550},{"b":3,"p":1650},{"b":3,"p":1750},{"b":3,"p":1850},{"b":3,"p":1950},{"b":3,"p":2050},{"b":3,"p":2150},{"b":3,"p":2250},{"b":3,"p":2350},{"b":3,"p":2454},
{"b":4,"p":890},{"b":4,"p":950},{"b":4,"p":1020},{"b":4,"p":1100},{"b":4,"p":1180},{"b":4,"p":1260},{"b":4,"p":1350},{"b":4,"p":1440},{"b":4,"p":1530},{"b":4,"p":1620},{"b":4,"p":1710},{"b":4,"p":1800},{"b":4,"p":1900},{"b":4,"p":2000},{"b":4,"p":2100},{"b":4,"p":2200},{"b":4,"p":2300},{"b":4,"p":2400},{"b":4,"p":2519},{"b":4,"p":2903},
{"b":5,"p":1080},{"b":5,"p":1150},{"b":5,"p":1230},{"b":5,"p":1310},{"b":5,"p":1400},{"b":5,"p":1490},{"b":5,"p":1580},{"b":5,"p":1680},{"b":5,"p":1780},{"b":5,"p":1880},{"b":5,"p":1980},{"b":5,"p":2100},{"b":5,"p":2220},{"b":5,"p":2350},{"b":5,"p":2480},{"b":5,"p":2620},{"b":5,"p":2760},{"b":5,"p":2900},{"b":5,"p":3050},{"b":5,"p":3200},{"b":5,"p":3350},{"b":5,"p":3460},{"b":5,"p":3543},{"b":5,"p":3671},{"b":5,"p":4563},
{"b":6,"p":1040},{"b":6,"p":1100},{"b":6,"p":1170},{"b":6,"p":1250},{"b":6,"p":1330},{"b":6,"p":1420},{"b":6,"p":1495},{"b":6,"p":1600},{"b":6,"p":1750},{"b":6,"p":2354},{"b":6,"p":3434},{"b":6,"p":4435},{"b":6,"p":4946},
{"b":7,"p":1242},{"b":7,"p":1300},{"b":7,"p":1495},{"b":7,"p":2033},{"b":7,"p":2110}
],
"bath":[
{"k":0,"l":27,"q1":92,"m":218,"q3":320,"h":430},{"k":0.5,"l":30,"q1":53,"m":91,"q3":130,"h":170},{"k":0.75,"l":27,"q1":65,"m":115,"q3":168,"h":260},{"k":1,"l":40,"q1":115,"m":180,"q3":244,"h":420},{"k":1.25,"l":150,"q1":256,"m":300,"q3":344,"h":500},{"k":1.5,"l":50,"q1":168,"m":260,"q3":344,"h":600},{"k":1.75,"l":40,"q1":180,"m":280,"q3":370,"h":650},{"k":2,"l":40,"q1":190,"m":290,"q3":397,"h":680},{"k":2.25,"l":50,"q1":219,"m":300,"q3":397,"h":720},{"k":2.5,"l":50,"q1":229,"m":330,"q3":447,"h":850},
{"k":2.75,"l":60,"q1":256,"m":370,"q3":511,"h":950},{"k":3,"l":70,"q1":294,"m":400,"q3":534,"h":1050},{"k":3.25,"l":100,"q1":370,"m":580,"q3":790,"h":1500},{"k":3.5,"l":100,"q1":397,"m":530,"q3":702,"h":1300},{"k":3.75,"l":120,"q1":485,"m":700,"q3":955,"h":1700},{"k":4,"l":150,"q1":511,"m":700,"q3":955,"h":1800},{"k":4.25,"l":200,"q1":611,"m":900,"q3":1248,"h":2000},{"k":4.5,"l":150,"q1":511,"m":700,"q3":1069,"h":1850},{"k":4.75,"l":300,"q1":817,"m":1480,"q3":1656,"h":2330},{"k":5,"l":200,"q1":447,"m":930,"q3":1198,"h":2250},
{"k":5.25,"l":200,"q1":740,"m":900,"q3":1466,"h":2000},{"k":5.5,"l":600,"q1":992,"m":1500,"q3":2328,"h":2870},{"k":5.75,"l":360,"q1":1019,"m":1220,"q3":1847,"h":2600},{"k":6,"l":600,"q1":1084,"m":1850,"q3":2267,"h":3400},{"k":6.25,"l":1930,"q1":1930,"m":1985,"q3":2030,"h":2030},{"k":6.5,"l":750,"q1":931,"m":1100,"q3":1248,"h":1420},{"k":6.75,"l":500,"q1":1145,"m":1780,"q3":2382,"h":3000},{"k":7.5,"l":282,"q1":282,"m":282,"q3":282,"h":282},{"k":7.75,"l":4454,"q1":4454,"m":4454,"q3":4454,"h":4454},{"k":8,"l":1466,"q1":2317,"m":3221,"q3":4099,"h":4900}
],
"bathO":[
{"k":0,"p":725},{"k":0,"p":828},{"k":0.75,"p":465},{"k":0.75,"p":534},
{"k":1,"p":440},{"k":1,"p":480},{"k":1,"p":530},{"k":1,"p":580},{"k":1,"p":640},{"k":1,"p":700},{"k":1,"p":780},{"k":1,"p":866},
{"k":1.25,"p":860},{"k":1.25,"p":900},
{"k":1.5,"p":630},{"k":1.5,"p":680},{"k":1.5,"p":740},{"k":1.5,"p":800},{"k":1.5,"p":870},{"k":1.5,"p":950},{"k":1.5,"p":1030},{"k":1.5,"p":1110},{"k":1.5,"p":1200},{"k":1.5,"p":1336},
{"k":1.75,"p":680},{"k":1.75,"p":740},{"k":1.75,"p":810},{"k":1.75,"p":890},{"k":1.75,"p":970},{"k":1.75,"p":1060},{"k":1.75,"p":1150},{"k":1.75,"p":1250},{"k":1.75,"p":1350},{"k":1.75,"p":1450},{"k":1.75,"p":1560},{"k":1.75,"p":1680},{"k":1.75,"p":1782},{"k":1.75,"p":2164},
{"k":2,"p":710},{"k":2,"p":780},{"k":2,"p":860},{"k":2,"p":940},{"k":2,"p":1030},{"k":2,"p":1120},{"k":2,"p":1220},{"k":2,"p":1330},{"k":2,"p":1440},
{"k":2.25,"p":750},{"k":2.25,"p":820},{"k":2.25,"p":900},{"k":2.25,"p":990},{"k":2.25,"p":1080},{"k":2.25,"p":1180},{"k":2.25,"p":1280},{"k":2.25,"p":1400},{"k":2.25,"p":1560},
{"k":2.5,"p":880},{"k":2.5,"p":960},{"k":2.5,"p":1050},{"k":2.5,"p":1150},{"k":2.5,"p":1250},{"k":2.5,"p":1360},{"k":2.5,"p":1470},{"k":2.5,"p":1580},{"k":2.5,"p":1700},{"k":2.5,"p":1820},{"k":2.5,"p":1946},
{"k":2.75,"p":980},{"k":2.75,"p":1070},{"k":2.75,"p":1170},{"k":2.75,"p":1280},{"k":2.75,"p":1400},{"k":2.75,"p":1520},{"k":2.75,"p":1650},{"k":2.75,"p":1782},
{"k":3,"p":1090},{"k":3,"p":1180},{"k":3,"p":1280},{"k":3,"p":1390},{"k":3,"p":1500},{"k":3,"p":1620},{"k":3,"p":1750},{"k":3,"p":1900},{"k":3,"p":2927},
{"k":3.25,"p":1540},{"k":3.25,"p":1640},{"k":3.25,"p":1750},{"k":3.25,"p":1870},{"k":3.25,"p":2000},{"k":3.25,"p":2130},{"k":3.25,"p":2250},{"k":3.25,"p":2382},
{"k":3.5,"p":1340},{"k":3.5,"p":1440},{"k":3.5,"p":1550},{"k":3.5,"p":1660},{"k":3.5,"p":1780},{"k":3.5,"p":1900},{"k":3.5,"p":2020},{"k":3.5,"p":2150},{"k":3.5,"p":2270},{"k":3.5,"p":2395},
{"k":3.75,"p":1750},{"k":3.75,"p":1850},{"k":3.75,"p":1960},{"k":3.75,"p":2080},{"k":3.75,"p":2200},{"k":3.75,"p":2345},
{"k":4,"p":1850},{"k":4,"p":1950},{"k":4,"p":2070},{"k":4,"p":2191},
{"k":4.25,"p":2040},{"k":4.25,"p":2150},{"k":4.25,"p":2270},{"k":4.25,"p":2546},
{"k":4.5,"p":1900},{"k":4.5,"p":2000},{"k":4.5,"p":2120},{"k":4.5,"p":2300},{"k":4.5,"p":4580},
{"k":5,"p":3350},{"k":5.25,"p":3200},{"k":5.5,"p":3660}
]
},
"concat":[
{"width":219,"height":140,"layer":[
 {"data":{"name":"ages"},"mark":{"type":"rule","color":"#9a9a9a","strokeWidth":0.5},"encoding":{"x":{"field":"a","type":"ordinal","title":"ages","axis":{"labelAngle":90,"labelFontSize":1.8,"labelOverlap":false}},"y":{"field":"l","type":"quantitative","title":"price","scale":{"domain":[-210,5150],"nice":false,"zero":false},"axis":{"values":[0,1000,2000,3000,4000,5000]}},"y2":{"field":"h"}}},
 {"data":{"name":"ages"},"mark":{"type":"bar","width":{"band":0.8},"stroke":"#666","strokeWidth":0.2},"encoding":{"x":{"field":"a","type":"ordinal"},"y":{"field":"q1","type":"quantitative"},"y2":{"field":"q3"},"color":{"field":"a","type":"quantitative","legend":null,"scale":{"domain":[0,14.5,29,43.5,58,72.5,87,101.5,116],"range":["#e68294","#ba8c46","#8c963f","#42a169","#459e97","#4c9ebd","#ab99e7","#e273d0","#e68294"],"interpolate":"rgb"}}}},
 {"data":{"name":"ages"},"mark":{"type":"tick","color":"#555","size":1.5,"thickness":0.5},"encoding":{"x":{"field":"a","type":"ordinal"},"y":{"field":"m","type":"quantitative"}}},
 {"data":{"name":"agesO"},"mark":{"type":"point","shape":"diamond","filled":true,"size":4,"color":"#333","opacity":1},"encoding":{"x":{"field":"a","type":"ordinal"},"y":{"field":"p","type":"quantitative"}}}
]},
{"width":220,"height":140,"layer":[
 {"data":{"name":"sq"},"mark":{"type":"rule","color":"#4a4a4a","strokeWidth":0.6},"encoding":{"x":{"field":"s","type":"ordinal","title":"square","axis":{"labelAngle":90,"labelFontSize":2.2,"labelOverlap":false}},"y":{"field":"l","type":"quantitative","title":"price","scale":{"domain":[-210,5150],"nice":false,"zero":false},"axis":{"values":[0,1000,2000,3000,4000,5000]}},"y2":{"field":"h"}}},
 {"data":{"name":"sq"},"mark":{"type":"bar","width":{"band":0.8},"color":"#5a5a5a","stroke":"#333","strokeWidth":0.3},"encoding":{"x":{"field":"s","type":"ordinal"},"y":{"field":"q1","type":"quantitative"},"y2":{"field":"q3"}}},
 {"data":{"name":"sq"},"mark":{"type":"tick","color":"#333","size":1.7,"thickness":0.5},"encoding":{"x":{"field":"s","type":"ordinal"},"y":{"field":"m","type":"quantitative"}}},
 {"data":{"name":"sqO"},"mark":{"type":"point","shape":"diamond","filled":true,"size":5,"color":"#2e2e2e","opacity":1},"encoding":{"x":{"field":"s","type":"ordinal"},"y":{"field":"p","type":"quantitative"}}}
]},
{"width":217,"height":140,"layer":[
 {"data":{"name":"fl"},"mark":{"type":"rule","color":"#444","strokeWidth":0.8},"encoding":{"x":{"field":"f","type":"ordinal","title":"floors","axis":{"labelExpr":"format(datum.value,'.1f')"}},"y":{"field":"l","type":"quantitative","title":"price","scale":{"domain":[-210,5150],"nice":false,"zero":false},"axis":{"values":[0,1000,2000,3000,4000,5000]}},"y2":{"field":"h"}}},
 {"data":{"name":"fl"},"mark":{"type":"bar","width":{"band":0.8},"stroke":"#444","strokeWidth":0.8},"encoding":{"x":{"field":"f","type":"ordinal"},"y":{"field":"q1","type":"quantitative"},"y2":{"field":"q3"},"color":{"field":"f","type":"nominal","legend":null,"scale":{"domain":[1,1.5,2,2.5,3,3.5],"range":["#3274a1","#e1812c","#3a923a","#c03d3e","#9372b2","#845b53"]}}}},
 {"data":{"name":"fl"},"mark":{"type":"tick","color":"#444","size":29,"thickness":0.8},"encoding":{"x":{"field":"f","type":"ordinal"},"y":{"field":"m","type":"quantitative"}}},
 {"data":{"name":"fl"},"mark":{"type":"tick","color":"#444","size":14.5,"thickness":0.8},"encoding":{"x":{"field":"f","type":"ordinal"},"y":{"field":"l","type":"quantitative"}}},
 {"data":{"name":"fl"},"mark":{"type":"tick","color":"#444","size":14.5,"thickness":0.8},"encoding":{"x":{"field":"f","type":"ordinal"},"y":{"field":"h","type":"quantitative"}}},
 {"data":{"name":"flO"},"mark":{"type":"point","shape":"diamond","filled":true,"size":5,"color":"#333","opacity":1},"encoding":{"x":{"field":"f","type":"ordinal"},"y":{"field":"p","type":"quantitative"}}}
]},
{"width":219,"height":141,"layer":[
 {"data":{"name":"bed"},"mark":{"type":"rule","color":"#444","strokeWidth":0.8},"encoding":{"x":{"field":"b","type":"ordinal","title":"bedrooms","axis":{"labelExpr":"format(datum.value,'.1f')"}},"y":{"field":"l","type":"quantitative","title":"price","scale":{"domain":[-195,5205],"nice":false,"zero":false},"axis":{"values":[0,1000,2000,3000,4000,5000]}},"y2":{"field":"h"}}},
 {"data":{"name":"bed"},"mark":{"type":"bar","width":{"band":0.8},"stroke":"#444","strokeWidth":0.8},"encoding":{"x":{"field":"b","type":"ordinal"},"y":{"field":"q1","type":"quantitative"},"y2":{"field":"q3"},"color":{"field":"b","type":"nominal","legend":null,"scale":{"domain":[0,1,2,3,4,5,6,7,8,9,10,11,33],"range":["#e68294","#cb8864","#af8e44","#939440","#6a9b52","#42a16d","#449f89","#479ea3","#4b9eba","#7f9bd4","#b393e4","#d57cd5","#e479b9"]}}}},
 {"data":{"name":"bed"},"mark":{"type":"tick","color":"#444","size":13.4,"thickness":0.8},"encoding":{"x":{"field":"b","type":"ordinal"},"y":{"field":"m","type":"quantitative"}}},
 {"data":{"name":"bed"},"mark":{"type":"tick","color":"#444","size":6.7,"thickness":0.8},"encoding":{"x":{"field":"b","type":"ordinal"},"y":{"field":"l","type":"quantitative"}}},
 {"data":{"name":"bed"},"mark":{"type":"tick","color":"#444","size":6.7,"thickness":0.8},"encoding":{"x":{"field":"b","type":"ordinal"},"y":{"field":"h","type":"quantitative"}}},
 {"data":{"name":"bedO"},"mark":{"type":"point","shape":"diamond","filled":true,"size":5,"color":"#333","opacity":1},"encoding":{"x":{"field":"b","type":"ordinal"},"y":{"field":"p","type":"quantitative"}}}
]},
{"width":220,"height":141,"layer":[
 {"data":{"name":"bath"},"mark":{"type":"rule","color":"#444","strokeWidth":0.8},"encoding":{"x":{"field":"k","type":"ordinal","title":"bathrooms","axis":{"labelExpr":"(datum.value*4)%2==1 ? format(datum.value,'.2f') : format(datum.value,'.1f')","labelFontSize":2.2}},"y":{"field":"l","type":"quantitative","title":"price","scale":{"domain":[-195,5205],"nice":false,"zero":false},"axis":{"values":[0,1000,2000,3000,4000,5000]}},"y2":{"field":"h"}}},
 {"data":{"name":"bath"},"mark":{"type":"bar","width":{"band":0.8},"stroke":"#444","strokeWidth":0.7},"encoding":{"x":{"field":"k","type":"ordinal"},"y":{"field":"q1","type":"quantitative"},"y2":{"field":"q3"},"color":{"field":"k","type":"nominal","legend":null,"scale":{"domain":[0,0.5,0.75,1,1.25,1.5,1.75,2,2.25,2.5,2.75,3,3.25,3.5,3.75,4,4.25,4.5,4.75,5,5.25,5.5,5.75,6,6.25,6.5,6.75,7.5,7.75,8],"range":["#e68294","#da857f","#cf876a","#c38a56","#b78d46","#ab8f44","#9e9242","#919540","#829745","#6e9a50","#5b9d5b","#47a066","#43a072","#439f7e","#449f8a","#459e97","#479ea1","#499eab","#4b9eb5","#529ec0","#6c9ccb","#859bd6","#9e9ae2","#b294e4","#c18adf","#d080d8","#de76d2","#e376c4","#e47bb4","#e57fa4"]}}}},
 {"data":{"name":"bath"},"mark":{"type":"tick","color":"#444","size":5.9,"thickness":0.8},"encoding":{"x":{"field":"k","type":"ordinal"},"y":{"field":"m","type":"quantitative"}}},
 {"data":{"name":"bath"},"mark":{"type":"tick","color":"#444","size":3,"thickness":0.8},"encoding":{"x":{"field":"k","type":"ordinal"},"y":{"field":"l","type":"quantitative"}}},
 {"data":{"name":"bath"},"mark":{"type":"tick","color":"#444","size":3,"thickness":0.8},"encoding":{"x":{"field":"k","type":"ordinal"},"y":{"field":"h","type":"quantitative"}}},
 {"data":{"name":"bathO"},"mark":{"type":"point","shape":"diamond","filled":true,"size":5,"color":"#333","opacity":1},"encoding":{"x":{"field":"k","type":"ordinal"},"y":{"field":"p","type":"quantitative"}}}
]}
]
}
